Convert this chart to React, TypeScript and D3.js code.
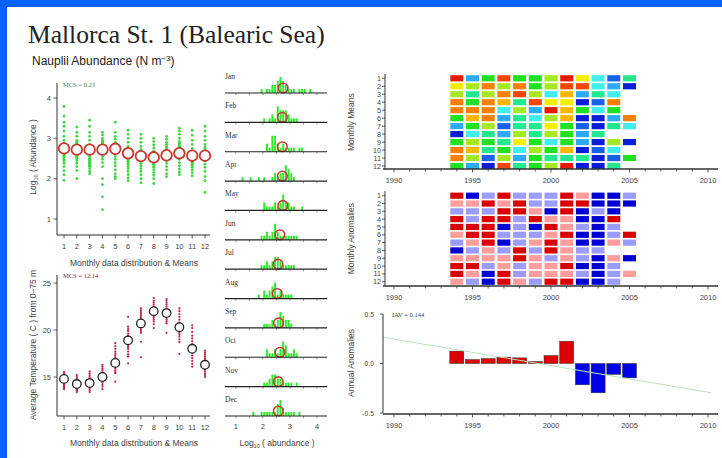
import React from "react";
import * as d3 from "d3";

const monthNumbers = [1, 2, 3, 4, 5, 6, 7, 8, 9, 10, 11, 12];
const monthNames = ["Jan", "Feb", "Mar", "Apr", "May", "Jun", "Jul", "Aug", "Sep", "Oct", "Nov", "Dec"];

const abundanceByMonth: number[][] = [
  [3.79, 3.55, 3.4, 3.3, 3.18, 3.05, 2.95, 2.88, 2.82, 2.78, 2.74, 2.7, 2.66, 2.63, 2.62, 2.61, 2.6, 2.58, 2.55, 2.52, 2.48, 2.44, 2.38, 2.3, 2.2, 2.1, 1.96],
  [3.28, 3.15, 3.05, 2.95, 2.9, 2.88, 2.85, 2.8, 2.78, 2.75, 2.72, 2.68, 2.65, 2.62, 2.58, 2.55, 2.52, 2.5, 2.45, 2.38, 2.3, 2.2, 2.0],
  [3.45, 3.3, 3.15, 3.05, 2.95, 2.85, 2.78, 2.7, 2.62, 2.55, 2.5, 2.48, 2.45, 2.42, 2.4, 2.38, 2.35, 2.32, 2.3, 2.25, 2.18, 2.12],
  [3.15, 3.08, 3.0, 2.95, 2.92, 2.9, 2.88, 2.86, 2.84, 2.8, 2.76, 2.72, 2.68, 2.62, 2.55, 2.48, 2.4, 2.3, 2.0, 1.85, 1.55, 1.23],
  [3.4, 3.15, 3.05, 2.98, 2.9, 2.85, 2.8, 2.78, 2.76, 2.74, 2.72, 2.68, 2.62, 2.55, 2.48, 2.4, 2.32, 2.22, 2.12, 2.05, 2.0],
  [3.2, 3.1, 3.0, 2.9, 2.8, 2.72, 2.65, 2.58, 2.52, 2.48, 2.45, 2.43, 2.4, 2.36, 2.3, 2.25, 2.18, 2.1, 2.02, 1.95],
  [3.1, 3.0, 2.9, 2.8, 2.72, 2.65, 2.6, 2.56, 2.54, 2.5, 2.47, 2.45, 2.42, 2.38, 2.32, 2.25, 2.18, 2.1, 2.0, 1.9],
  [3.0, 2.92, 2.84, 2.76, 2.68, 2.6, 2.54, 2.48, 2.45, 2.42, 2.4, 2.38, 2.36, 2.32, 2.28, 2.22, 2.15, 2.08, 2.0, 1.88],
  [3.05, 2.98, 2.9, 2.85, 2.8, 2.76, 2.73, 2.7, 2.68, 2.66, 2.64, 2.62, 2.58, 2.52, 2.45, 2.38, 2.3, 2.22, 2.12, 2.05],
  [3.25, 3.18, 3.1, 3.0, 2.92, 2.88, 2.85, 2.8, 2.78, 2.75, 2.72, 2.7, 2.65, 2.6, 2.55, 2.48, 2.4, 2.32, 2.24, 2.16, 2.1],
  [3.2, 3.08, 2.95, 2.85, 2.75, 2.68, 2.6, 2.55, 2.5, 2.45, 2.42, 2.4, 2.38, 2.36, 2.32, 2.28, 2.22, 2.15, 2.07],
  [3.3, 3.18, 3.05, 2.95, 2.85, 2.78, 2.72, 2.68, 2.65, 2.62, 2.6, 2.58, 2.55, 2.5, 2.44, 2.36, 2.28, 2.18, 2.05, 1.95, 1.66],
];
const abundanceMeans = [2.75, 2.72, 2.72, 2.72, 2.74, 2.63, 2.56, 2.53, 2.58, 2.63, 2.57, 2.57];

const temperatureByMonth: number[][] = [
  [15.56, 15.4, 15.25, 15.1, 15.0, 14.9, 14.8, 14.7, 14.6, 14.5, 14.4, 14.3, 14.2, 14.1, 14.0, 13.9, 13.8, 13.7],
  [15.2, 15.0, 14.8, 14.65, 14.5, 14.4, 14.3, 14.2, 14.1, 14.0, 13.9, 13.8, 13.7, 13.6, 13.5, 13.4],
  [15.6, 15.4, 15.2, 15.0, 14.85, 14.7, 14.6, 14.5, 14.4, 14.3, 14.2, 14.1, 14.0, 13.9, 13.8, 13.6, 13.4],
  [16.3, 16.1, 15.9, 15.7, 15.5, 15.35, 15.2, 15.1, 15.0, 14.9, 14.8, 14.7, 14.55, 14.4, 14.2, 14.0, 13.7],
  [18.6, 18.3, 18.0, 17.7, 17.5, 17.3, 17.1, 16.9, 16.7, 16.5, 16.3, 16.1, 15.9, 15.7, 15.5, 15.4, 14.5],
  [21.4, 20.35, 20.1, 19.9, 19.6, 19.4, 19.2, 19.0, 18.8, 18.6, 18.4, 18.2, 18.0, 17.7, 17.4, 17.16, 16.45],
  [22.3, 22.1, 21.9, 21.7, 21.5, 21.3, 21.1, 20.9, 20.7, 20.5, 20.3, 20.1, 19.9, 19.7, 18.75, 17.1],
  [23.4, 23.1, 22.9, 22.7, 22.5, 22.3, 22.1, 21.9, 21.7, 21.5, 21.3, 21.1, 20.9, 20.6, 20.2],
  [23.3, 23.1, 22.9, 22.7, 22.5, 22.3, 22.1, 21.9, 21.7, 21.5, 21.3, 21.1, 20.9, 20.7, 19.7],
  [22.3, 22.0, 21.7, 21.4, 21.1, 20.8, 20.5, 20.3, 20.1, 19.9, 19.7, 19.5, 19.3, 19.0, 18.7, 17.45],
  [20.5, 20.2, 19.8, 19.4, 19.1, 18.8, 18.5, 18.2, 17.9, 17.6, 17.3, 17.0, 16.7, 16.4, 16.1],
  [17.8, 17.6, 17.4, 17.2, 17.0, 16.8, 16.6, 16.4, 16.2, 16.0, 15.8, 15.6, 15.4, 15.2, 15.0],
];
const temperatureMeans = [14.8, 14.25, 14.35, 15.0, 16.5, 18.9, 20.7, 22.0, 21.8, 20.3, 18.0, 16.3];

const years = [1994, 1995, 1996, 1997, 1998, 1999, 2000, 2001, 2002, 2003, 2004, 2005];

// colour class 0 (lowest, dark blue) .. 11 (highest, red); rows = months, columns = years
const monthlyMeanClass: (number | null)[][] = [
  [11, 2, 5, 10, 5, 5, 6, 11, 7, 3, 1, 4],
  [7, 6, 9, 6, 9, 5, 6, 10, 10, 3, 2, 0],
  [6, 4, 6, 9, 10, 6, 3, 8, 2, 4, 3, null],
  [9, 5, 9, 8, 4, 10, 7, 7, 0, 1, 9, null],
  [9, 9, 9, 3, 6, 2, 11, 8, 5, 3, 5, null],
  [5, 8, 9, 2, 4, 3, 6, 8, 0, 0, 2, 9],
  [2, 5, 6, 1, 4, 4, 7, 5, 1, 0, 4, 3],
  [0, 3, 4, 2, 6, 4, 6, 5, 2, 4, null, null],
  [5, 6, 5, 4, 7, 5, 3, 5, 2, 0, 6, 0],
  [9, 8, 4, 5, 3, 6, 5, 8, 0, 1, 3, null],
  [9, 6, 1, 6, 2, 5, 4, 4, 4, 0, 1, 5],
  [5, 2, 0, 10, 4, 5, 6, 11, 0, 0, 4, null],
];

// anomaly class: 2 strong positive, 1 weak positive, -1 weak negative, -2 strong negative
const monthlyAnomalyClass: (number | null)[][] = [
  [2, -2, -1, 2, -1, -1, -1, 2, 1, -2, -2, -1],
  [1, 1, 2, 1, 2, -1, -1, 2, 2, -2, -2, -2],
  [-1, -1, -1, 2, 2, 1, -2, 2, -2, -1, -2, null],
  [2, -1, 2, 2, -1, 2, 1, 1, -2, -2, 2, null],
  [2, 2, 2, -2, -1, -2, 2, 1, -1, -2, -1, null],
  [1, 2, 2, -1, -1, -1, 1, 2, -2, -2, -1, 2],
  [-1, 1, 2, -2, -1, 1, 2, 1, -2, -2, 1, -1],
  [-2, -1, 1, -1, 2, -1, 2, 1, -1, -1, null, null],
  [1, 1, 1, 1, 2, 1, -1, 1, -1, -2, 1, -2],
  [2, 2, -1, 1, -1, 1, 1, 2, -2, -2, -1, null],
  [2, 1, -2, 2, -1, 1, 1, 1, -1, -2, -1, 1],
  [1, -1, -2, 2, 1, -1, 2, 2, -2, -2, -1, null],
];

const annualAnomalies = [0.125, 0.04, 0.05, 0.064, 0.057, 0.02, 0.08, 0.225, -0.215, -0.296, -0.11, -0.145];
const trendYears = [1989.3, 2010.2];
const trendValues = [0.265, -0.295];

const abundanceTicks = [1, 2, 3, 4];
const temperatureTicks = [15, 20, 25];
const histMinorTicks = [1, 1.5, 2, 2.5, 3, 3.5, 4];
const histLabels = [1, 2, 3, 4];
const yearTicks = d3.range(1990, 2011);
const yearLabels = [1990, 1995, 2000, 2005, 2010];
const annualTicks = [-0.5, 0, 0.5];

const jetColors = ["#0a1ed8", "#1462ea", "#2caaf2", "#40eeee", "#22e890", "#22e022", "#a6e822", "#f6ee00", "#f8b600", "#f88000", "#f04600", "#e61a00"];
const anomalyClasses = [-2, -1, 1, 2];
const anomalyColors = ["#0000d0", "#9c9cff", "#ff9c9c", "#d80000"];

const SANS = "'Liberation Sans', Arial, sans-serif";
const SERIF = "'Liberation Serif', 'Times New Roman', serif";
const AX = "#333";

export default function App() {
  // left panels
  const xMonth = d3.scaleLinear().domain([1, 12]).range([64, 205]);
  const yAb = d3.scaleLinear().domain([1, 4]).range([219, 98]);
  const yTemp = d3.scaleLinear().domain([15, 25]).range([377, 283]);

  // histograms
  const xHist = d3.scaleLinear().domain([0.6, 4.37]).range([225, 327]);
  const histRow = d3.scaleLinear().domain([0, 11]).range([93, 416]);
  const binner = d3
    .bin()
    .domain([0.6, 4.4])
    .thresholds(d3.range(6, 44).map((k) => k / 10));
  const histBins = abundanceByMonth.map((vals) => binner(vals));
  const hHist = d3.scaleLinear().domain([0, 4]).range([0, 16]).clamp(true);

  // heatmaps and annual
  const xYear = d3.scaleLinear().domain([1990, 2010]).range([394, 708]);
  const yMeans = d3.scalePoint<number>().domain(monthNumbers).range([78.3, 166]);
  const yAnom = d3.scalePoint<number>().domain(monthNumbers).range([195.7, 281.7]);
  const meanColor = d3.scaleOrdinal<number, string>().domain(d3.range(12)).range(jetColors);
  const anomColor = d3.scaleOrdinal<number, string>().domain(anomalyClasses).range(anomalyColors);
  const yAnn = d3.scaleLinear().domain([-0.5, 0.5]).range([413, 314]);
  const cellW = 13;
  const cellH = 6.2;
  const barW = 14;

  const trendLine = d3
    .line<number>()
    .x((_, i) => xYear(trendYears[i]))
    .y((v) => yAnn(v))(trendValues) as string;

  const yearAxis = (yLine: number, key: string) => (
    <g key={key}>
      <line x1={383} x2={718} y1={yLine} y2={yLine} stroke={AX} strokeWidth={1.5} />
      {yearTicks.map((t) => (
        <line key={t} x1={xYear(t)} x2={xYear(t)} y1={yLine} y2={yLine + (t % 5 === 0 ? 3.5 : 2.5)} stroke={AX} strokeWidth={0.8} />
      ))}
      {yearLabels.map((t) => (
        <text key={"l" + t} x={xYear(t)} y={yLine + 14} textAnchor="middle" fontFamily={SANS} fontSize={7.5} fill="#444">
          {t}
        </text>
      ))}
    </g>
  );

  const heatmap = (
    grid: (number | null)[][],
    yScale: d3.ScalePoint<number>,
    colorOf: (v: number) => string,
    axisY: number,
    top: number,
    title: string,
    key: string
  ) => (
    <g key={key}>
      {grid.map((row, ri) =>
        row.map((v, ci) =>
          v === null ? null : (
            <rect
              key={ri + "-" + ci}
              x={xYear(years[ci]) - cellW / 2}
              y={(yScale(monthNumbers[ri]) as number) - cellH / 2}
              width={cellW}
              height={cellH}
              fill={colorOf(v)}
            />
          )
        )
      )}
      <line x1={385} x2={385} y1={top} y2={axisY} stroke={AX} strokeWidth={1} />
      {monthNumbers.map((m) => (
        <g key={"t" + m}>
          <line x1={382} x2={385} y1={yScale(m)} y2={yScale(m)} stroke={AX} strokeWidth={0.8} />
          <text x={381} y={(yScale(m) as number) + 2.6} textAnchor="end" fontFamily={SANS} fontSize={7.2} fill="#444">
            {m}
          </text>
        </g>
      ))}
      {yearAxis(axisY, key + "ax")}
      <text
        transform={`translate(354,${((yScale(1) as number) + (yScale(12) as number)) / 2}) rotate(-90)`}
        textAnchor="middle"
        fontFamily={SANS}
        fontSize={8.5}
        fill="#444"
      >
        {title}
      </text>
    </g>
  );

  return (
    <div style={{ position: "absolute", left: 0, top: 0 }}>
      <svg width={722} height={458} style={{ display: "block", background: "#fff" }}>
        <rect x={0} y={0} width={722} height={458} fill="#fff" />
        <rect x={0} y={0} width={722} height={7} fill="#0563fb" />
        <rect x={0} y={0} width={7} height={458} fill="#0563fb" />

        <text x={28} y={43} fontFamily={SERIF} fontSize={25.5} fill="#222">
          Mallorca St. 1 (Balearic Sea)
        </text>
        <text x={32} y={65} fontFamily={SANS} fontSize={12} fill="#222">
          Nauplii Abundance (N m
          <tspan fontSize={8} dy={-4.5}>−3</tspan>
          <tspan dy={4.5}>)</tspan>
        </text>

        {/* Top-left abundance panel */}
        <g>
          {abundanceByMonth.map((vals, i) =>
            vals.map((v, j) => (
              <circle key={i + "-" + j} cx={xMonth(monthNumbers[i])} cy={yAb(v)} r={1.4} fill="#3ad83a" />
            ))
          )}
          {abundanceMeans.map((v, i) => (
            <circle key={"m" + i} cx={xMonth(monthNumbers[i])} cy={yAb(v)} r={5.3} fill="#fff" stroke="#c8372d" strokeWidth={1.8} />
          ))}
          <line x1={57} x2={57} y1={83} y2={235} stroke={AX} strokeWidth={1} />
          <line x1={57} x2={210} y1={235} y2={235} stroke={AX} strokeWidth={1} />
          {abundanceTicks.map((t) => (
            <g key={t}>
              <line x1={53.5} x2={57} y1={yAb(t)} y2={yAb(t)} stroke={AX} strokeWidth={0.8} />
              <text x={51} y={yAb(t) + 2.7} textAnchor="end" fontFamily={SANS} fontSize={7.5} fill="#444">
                {t}
              </text>
            </g>
          ))}
          {monthNumbers.map((m) => (
            <g key={"x" + m}>
              <line x1={xMonth(m)} x2={xMonth(m)} y1={235} y2={238.5} stroke={AX} strokeWidth={0.8} />
              <text x={xMonth(m)} y={249} textAnchor="middle" fontFamily={SANS} fontSize={7.5} fill="#444">
                {m}
              </text>
            </g>
          ))}
          <text x={134} y={266} textAnchor="middle" fontFamily={SANS} fontSize={8.5} fill="#444">
            Monthly data distribution &amp; Means
          </text>
          <text transform="translate(36,157) rotate(-90)" textAnchor="middle" fontFamily={SANS} fontSize={8.5} fill="#444">
            Log<tspan fontSize={5.5} dy={2}>10</tspan>
            <tspan dy={-2}> ( Abundance )</tspan>
          </text>
          <text x={63} y={87} fontFamily={SERIF} fontSize={6.5} fill="#557a55">
            MCS = 0.23
          </text>
        </g>

        {/* Bottom-left temperature panel */}
        <g>
          {temperatureByMonth.map((vals, i) =>
            vals.map((v, j) => (
              <circle key={i + "-" + j} cx={xMonth(monthNumbers[i])} cy={yTemp(v)} r={1.1} fill="#c4204e" />
            ))
          )}
          {temperatureMeans.map((v, i) => (
            <circle key={"m" + i} cx={xMonth(monthNumbers[i])} cy={yTemp(v)} r={4.3} fill="#fff" stroke="#222" strokeWidth={1.3} />
          ))}
          <line x1={57} x2={57} y1={275} y2={416} stroke={AX} strokeWidth={1} />
          <line x1={57} x2={210} y1={416} y2={416} stroke={AX} strokeWidth={1} />
          {temperatureTicks.map((t) => (
            <g key={t}>
              <line x1={53.5} x2={57} y1={yTemp(t)} y2={yTemp(t)} stroke={AX} strokeWidth={0.8} />
              <text x={51} y={yTemp(t) + 2.7} textAnchor="end" fontFamily={SANS} fontSize={7.5} fill="#444">
                {t}
              </text>
            </g>
          ))}
          {monthNumbers.map((m) => (
            <g key={"x" + m}>
              <line x1={xMonth(m)} x2={xMonth(m)} y1={416} y2={419.5} stroke={AX} strokeWidth={0.8} />
              <text x={xMonth(m)} y={430} textAnchor="middle" fontFamily={SANS} fontSize={7.5} fill="#444">
                {m}
              </text>
            </g>
          ))}
          <text x={134} y={446} textAnchor="middle" fontFamily={SANS} fontSize={8.5} fill="#444">
            Monthly data distribution &amp; Means
          </text>
          <text transform="translate(36,345) rotate(-90)" textAnchor="middle" fontFamily={SANS} fontSize={8.5} fill="#444">
            Average Temperature ( C ) from 0–75 m
          </text>
          <text x={63} y={277.5} fontFamily={SERIF} fontSize={6.5} fill="#8a2a3a">
            MCS = 12.14
          </text>
        </g>

        {/* Middle histograms */}
        <g>
          {histBins.map((bins, i) => {
            const base = histRow(i);
            return (
              <g key={i}>
                <text x={225} y={base - 14} fontFamily={SERIF} fontSize={7.5} fill="#333">
                  {monthNames[i]}
                </text>
                {bins.map((b, k) =>
                  b.length === 0 ? null : (
                    <rect
                      key={k}
                      x={xHist(b.x0 as number) + 0.4}
                      y={base - hHist(b.length)}
                      width={Math.max(0.8, xHist(b.x1 as number) - xHist(b.x0 as number) - 0.8)}
                      height={hHist(b.length)}
                      fill="#2ee82e"
                    />
                  )
                )}
                <circle cx={xHist(abundanceMeans[i])} cy={base - 5} r={4.8} fill="none" stroke="#c8372d" strokeWidth={1.6} />
                <line x1={225} x2={327} y1={base} y2={base} stroke="#222" strokeWidth={1.2} />
                {histMinorTicks.map((t) => (
                  <line key={t} x1={xHist(t)} x2={xHist(t)} y1={base} y2={base + 2.2} stroke="#444" strokeWidth={0.6} />
                ))}
              </g>
            );
          })}
          {histLabels.map((t) => (
            <text key={t} x={xHist(t)} y={429} textAnchor="middle" fontFamily={SANS} fontSize={7.5} fill="#444">
              {t}
            </text>
          ))}
          <text x={277} y={446} textAnchor="middle" fontFamily={SANS} fontSize={8.5} fill="#444">
            Log<tspan fontSize={5.5} dy={2}>10</tspan>
            <tspan dy={-2}> ( abundance )</tspan>
          </text>
        </g>

        {/* Heatmaps */}
        {heatmap(monthlyMeanClass, yMeans, (v) => meanColor(v), 169, 74, "Monthly Means", "hm1")}
        {heatmap(monthlyAnomalyClass, yAnom, (v) => anomColor(v), 286, 191, "Monthly Anomalies", "hm2")}

        {/* Annual anomalies */}
        <g>
          {annualAnomalies.map((v, i) => (
            <rect
              key={i}
              x={xYear(years[i]) - barW / 2}
              y={yAnn(Math.max(0, v))}
              width={barW}
              height={Math.abs(yAnn(v) - yAnn(0))}
              fill={v >= 0 ? "#dc0000" : "#0000e6"}
              stroke="#333"
              strokeWidth={0.5}
            />
          ))}
          <path d={trendLine} fill="none" stroke="#bfe0bf" strokeWidth={1} />
          <line x1={383} x2={383} y1={314} y2={413} stroke={AX} strokeWidth={1} />
          {annualTicks.map((t) => (
            <g key={t}>
              <line x1={380} x2={383} y1={yAnn(t)} y2={yAnn(t)} stroke={AX} strokeWidth={0.8} />
              <text x={374} y={yAnn(t) + 2.5} textAnchor="end" fontFamily={SANS} fontSize={6.8} fill="#444">
                {d3.format(".1f")(t).replace("−", "-")}
              </text>
            </g>
          ))}
          {yearAxis(414, "annax")}
          <text x={392} y={317} fontFamily={SERIF} fontSize={6.5} fill="#444">
            IAV = 0.144
          </text>
          <text transform="translate(354,363) rotate(-90)" textAnchor="middle" fontFamily={SANS} fontSize={8.5} fill="#444">
            Annual Anomalies
          </text>
        </g>
      </svg>
    </div>
  );
}
